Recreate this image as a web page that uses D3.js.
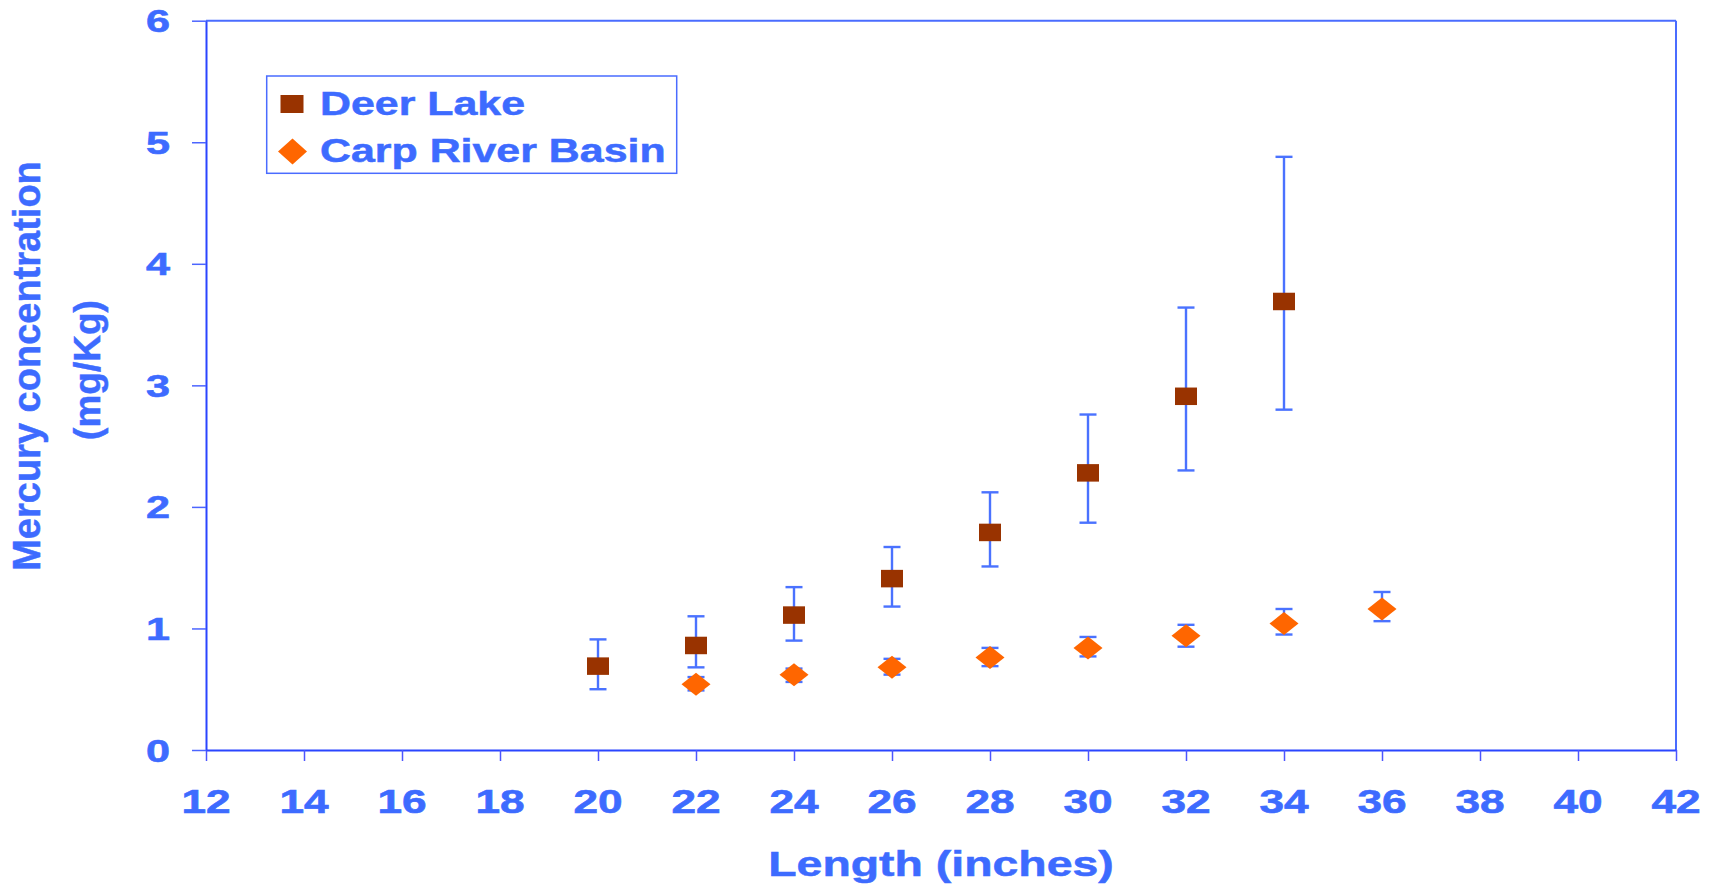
<!DOCTYPE html>
<html>
<head>
<meta charset="utf-8">
<script src="https://cdn.jsdelivr.net/npm/d3@7"></script>
<style>
  html, body { margin: 0; padding: 0; background: #fff; }
  svg { display: block; }
  text { font-family: "Liberation Sans", Arial, sans-serif; font-weight: bold; }
</style>
</head>
<body>
<svg id="chart" width="1715" height="885"></svg>
<script>
// ---- data ----
const deerLengths = [20, 22, 24, 26, 28, 30, 32, 34];
const deerMean    = [0.69, 0.86, 1.11, 1.41, 1.79, 2.28, 2.91, 3.69];
const deerLow     = [0.50, 0.68, 0.90, 1.18, 1.51, 1.87, 2.30, 2.80];
const deerHigh    = [0.91, 1.10, 1.34, 1.67, 2.12, 2.76, 3.64, 4.88];

const carpLengths = [22, 24, 26, 28, 30, 32, 34, 36];
const carpMean    = [0.54, 0.62, 0.68, 0.76, 0.84, 0.94, 1.04, 1.16];
const carpLow     = [0.49, 0.56, 0.62, 0.69, 0.77, 0.85, 0.95, 1.06];
const carpHigh    = [0.60, 0.67, 0.75, 0.84, 0.93, 1.03, 1.16, 1.30];

const xTicks = [12, 14, 16, 18, 20, 22, 24, 26, 28, 30, 32, 34, 36, 38, 40, 42];
const yTicks = [0, 1, 2, 3, 4, 5, 6];
const seriesNames = ["Deer Lake", "Carp River Basin"];
const xTitle = "Length (inches)";
const yTitle1 = "Mercury concentration";
const yTitle2 = "(mg/Kg)";

// ---- style ----
const textColor = "#3d6bff";
const axisColor = "#2a45ff";
const frameColor = "#4a6cff";
const errColor = "#4a72ff";
const deerColor = "#993300";
const carpColor = "#ff6600";

const svg = d3.select("#chart");
const L = 206, R = 1676, T = 20.7, B = 750;
const x = d3.scaleLinear().domain([12, 42]).range([L, R]);
const y = d3.scaleLinear().domain([0, 6]).range([B, T]);

// frame (top & right)
svg.append("line").attr("x1", L).attr("x2", R).attr("y1", T).attr("y2", T)
  .attr("stroke", frameColor).attr("stroke-width", 2);
svg.append("line").attr("x1", R).attr("x2", R).attr("y1", T).attr("y2", B)
  .attr("stroke", frameColor).attr("stroke-width", 2);

// x axis
const gx = svg.append("g").attr("transform", `translate(0,${B})`)
  .call(d3.axisBottom(x).tickValues(xTicks).tickSize(11).tickSizeOuter(0).tickFormat(""));
gx.select(".domain").attr("stroke", axisColor).attr("stroke-width", 2);
gx.selectAll(".tick line").attr("stroke", "#4c55ff").attr("stroke-width", 1.5);

// y axis
const gy = svg.append("g").attr("transform", `translate(${L},0)`)
  .call(d3.axisLeft(y).tickValues(yTicks).tickSize(14).tickSizeOuter(0).tickFormat(""));
gy.select(".domain").attr("stroke", axisColor).attr("stroke-width", 2);
gy.selectAll(".tick line").attr("stroke", "#4c65ff").attr("stroke-width", 1.5);

// x tick labels (horizontally stretched like the original)
svg.append("g").selectAll("text").data(xTicks).join("text")
  .attr("transform", d => `translate(${x(d)},812.5) scale(1.3,1)`)
  .attr("text-anchor", "middle").attr("font-size", 34).attr("fill", textColor)
  .attr("stroke", textColor).attr("stroke-width", 0.6)
  .text(d => d);

// y tick labels
svg.append("g").selectAll("text").data(yTicks).join("text")
  .attr("transform", d => `translate(170,${y(d) + 11.5}) scale(1.35,1)`)
  .attr("text-anchor", "end").attr("font-size", 32).attr("fill", textColor)
  .attr("stroke", textColor).attr("stroke-width", 0.6)
  .text(d => d);

// axis titles
svg.append("text")
  .attr("transform", `translate(941,876) scale(1.29,1)`)
  .attr("text-anchor", "middle").attr("font-size", 36).attr("fill", textColor)
  .attr("stroke", textColor).attr("stroke-width", 0.5)
  .text(xTitle);
svg.append("text")
  .attr("transform", `translate(40,366) rotate(-90)`)
  .attr("text-anchor", "middle").attr("font-size", 38).attr("fill", textColor)
  .attr("stroke", textColor).attr("stroke-width", 0.5)
  .text(yTitle1);
svg.append("text")
  .attr("transform", `translate(100,370) rotate(-90)`)
  .attr("text-anchor", "middle").attr("font-size", 37).attr("fill", textColor)
  .attr("stroke", textColor).attr("stroke-width", 0.5)
  .text(yTitle2);

// build data rows
const deer = deerLengths.map((l, i) => ({ l, m: deerMean[i], lo: deerLow[i], hi: deerHigh[i] }));
const carp = carpLengths.map((l, i) => ({ l, m: carpMean[i], lo: carpLow[i], hi: carpHigh[i] }));

function errorBars(data) {
  const g = svg.append("g").attr("stroke", errColor).attr("stroke-width", 2.4).attr("fill", "none");
  g.selectAll("line.v").data(data).join("line").attr("class", "v")
    .attr("x1", d => x(d.l)).attr("x2", d => x(d.l))
    .attr("y1", d => y(d.lo)).attr("y2", d => y(d.hi));
  g.selectAll("line.t").data(data).join("line").attr("class", "t")
    .attr("x1", d => x(d.l) - 8.5).attr("x2", d => x(d.l) + 8.5)
    .attr("y1", d => y(d.hi)).attr("y2", d => y(d.hi));
  g.selectAll("line.b").data(data).join("line").attr("class", "b")
    .attr("x1", d => x(d.l) - 8.5).attr("x2", d => x(d.l) + 8.5)
    .attr("y1", d => y(d.lo)).attr("y2", d => y(d.lo));
}
errorBars(deer);
errorBars(carp);

const sqW = 22, sqH = 17.5, dmW = 29, dmH = 23;
function diamondPath(cx, cy, w, h) {
  return `M${cx},${cy - h / 2}L${cx + w / 2},${cy}L${cx},${cy + h / 2}L${cx - w / 2},${cy}Z`;
}

svg.append("g").selectAll("rect").data(deer).join("rect")
  .attr("x", d => x(d.l) - sqW / 2).attr("y", d => y(d.m) - sqH / 2)
  .attr("width", sqW).attr("height", sqH).attr("fill", deerColor);

svg.append("g").selectAll("path").data(carp).join("path")
  .attr("d", d => diamondPath(x(d.l), y(d.m), dmW, dmH)).attr("fill", carpColor);

// legend
const lg = svg.append("g");
lg.append("rect").attr("x", 266.7).attr("y", 76).attr("width", 410).attr("height", 97.3)
  .attr("fill", "#fff").attr("stroke", frameColor).attr("stroke-width", 1.5);
lg.append("rect").attr("x", 280.5).attr("y", 95).attr("width", 23).attr("height", 18).attr("fill", deerColor);
lg.append("path").attr("d", diamondPath(292.5, 151.5, 29, 26)).attr("fill", carpColor);
lg.selectAll("text").data(seriesNames).join("text")
  .attr("transform", (d, i) => `translate(320,${i === 0 ? 115 : 161.7}) scale(1.32,1)`)
  .attr("font-size", 32.5).attr("fill", textColor)
  .attr("stroke", textColor).attr("stroke-width", 0.5)
  .text(d => d);
</script>
</body>
</html>
